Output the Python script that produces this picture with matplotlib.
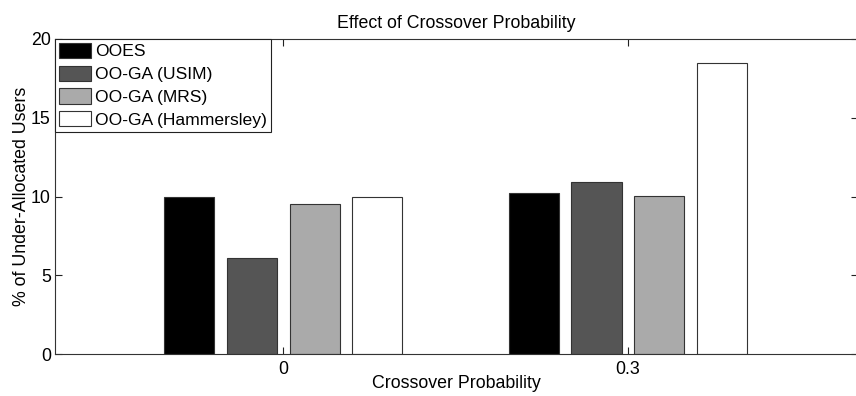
import numpy as np
import matplotlib.pyplot as plt

plt.rcParams['font.family'] = ['Liberation Sans', 'DejaVu Sans']

# crossover probability settings and results per method
categories = ['0', '0.3']
methods = ['OOES', 'OO-GA (USIM)', 'OO-GA (MRS)', 'OO-GA (Hammersley)']
values = {
    'OOES': [10.0, 10.2],
    'OO-GA (USIM)': [6.1, 10.9],
    'OO-GA (MRS)': [9.55, 10.05],
    'OO-GA (Hammersley)': [10.0, 18.45],
}
colors = ['#000000', '#555555', '#aaaaaa', '#ffffff']
yticks = [0, 5, 10, 15, 20]

FS = 12.8

fig = plt.figure(figsize=(8.56, 3.96), dpi=100)
ax = fig.add_axes([55 / 856, 41.9 / 396, 802.5 / 856, 315.2 / 396])

x = np.arange(1, len(categories) + 1)
n = len(methods)
group_width = min(0.8, n / (n + 1.5))
step = group_width / n
width = step * 0.8
for i, (name, color) in enumerate(zip(methods, colors)):
    offset = (i - (n - 1) / 2) * step
    ax.bar(x + offset, values[name], width, color=color, edgecolor='#333333',
           linewidth=0.8, label=name, zorder=2)

ax.set_xlim(1 - 0.663, 2 + 0.667)
ax.set_ylim(0, 20)
ax.set_xticks(x)
ax.set_xticklabels(categories)
ax.set_yticks(yticks)
ax.tick_params(direction='in', length=5, width=0.8, top=True, right=True,
               labelsize=FS, colors='#222222', labelcolor='black')
ax.tick_params(axis='x', pad=5)
ax.tick_params(axis='y', pad=3)
for side in ax.spines.values():
    side.set_color('#333333')
    side.set_linewidth(0.8)

ax.set_title('Effect of Crossover Probability', fontsize=FS, pad=8)
ax.set_xlabel('Crossover Probability', fontsize=FS, labelpad=-2)
ax.set_ylabel('% of Under-Allocated Users', fontsize=FS, labelpad=1)

leg = ax.legend(loc='upper left', fontsize=12.6, frameon=True, fancybox=False,
                borderaxespad=0, borderpad=0.22, handlelength=1.85,
                handleheight=0.95, handletextpad=0.2, labelspacing=0.36)
leg.get_frame().set_edgecolor('#222222')
leg.get_frame().set_linewidth(0.8)
leg.get_frame().set_alpha(1)

fig.savefig('out.png', dpi=100)
